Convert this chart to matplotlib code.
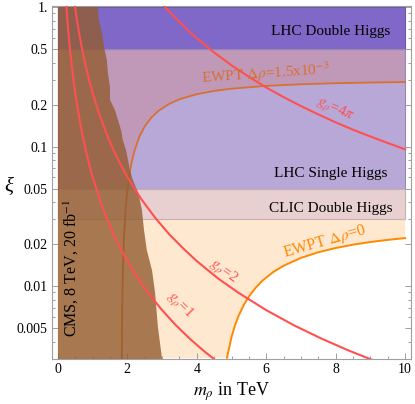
import matplotlib
matplotlib.use("Agg")
import matplotlib.pyplot as plt
from matplotlib.patches import Rectangle
from matplotlib.ticker import FixedLocator, FixedFormatter, NullFormatter

# ---------------- data ----------------
# coupling lines g_rho = 1, 2, 4pi : (m_rho [TeV], xi)
g1_m = [0.24, 0.27, 0.3, 0.35, 0.4, 0.45, 0.5, 0.6, 0.7, 0.8, 0.9, 1.0, 1.2, 1.4, 1.6, 1.8, 2.0, 2.3, 2.6, 3.0, 3.4, 3.8, 4.2, 4.6]
g1_xi = [1.05, 0.830, 0.672, 0.494, 0.378, 0.299, 0.242, 0.168, 0.1235, 0.0945, 0.0747, 0.0605, 0.0420,
         0.0309, 0.0236, 0.0187, 0.0151, 0.0114, 0.00895, 0.00672, 0.00523, 0.00419, 0.00343, 0.00286]
g2_m = [0.48, 0.55, 0.6, 0.7, 0.8, 0.9, 1.0, 1.2, 1.4, 1.6, 1.8, 2.0, 2.4, 2.8, 3.2, 3.6, 4.0, 4.6, 5.2, 6.0, 6.8, 7.6, 8.4, 9.2]
g2_xi = [1.05, 0.800, 0.672, 0.494, 0.378, 0.299, 0.242, 0.168, 0.1235, 0.0945, 0.0747, 0.0605, 0.0420,
         0.0309, 0.0236, 0.0187, 0.0151, 0.0114, 0.00895, 0.00672, 0.00523, 0.00419, 0.00343, 0.00286]
g4pi_m = [3.0, 3.2, 3.5, 3.8, 4.0, 4.5, 5.0, 5.5, 6.0, 6.5, 7.0, 7.5, 8.0, 8.5, 9.0, 9.5, 10.0]
g4pi_xi = [1.06, 0.933, 0.780, 0.662, 0.597, 0.472, 0.382, 0.316, 0.265, 0.226, 0.195, 0.170,
           0.149, 0.132, 0.118, 0.106, 0.0955]

# EWPT  Delta rho = 0
drho0_m = [4.87, 4.9, 5.0, 5.1, 5.2, 5.35, 5.5, 5.7, 5.9, 6.2, 6.5, 7.0, 7.5, 8.0, 8.5, 9.0, 9.5, 10.0]
drho0_xi = [0.00306, 0.00332, 0.00430, 0.00522, 0.00609, 0.00730, 0.00841, 0.00976, 0.01098, 0.01259,
            0.01398, 0.01591, 0.01747, 0.01874, 0.01980, 0.02069, 0.02143, 0.02207]

# EWPT  Delta rho = 1.5e-3
drho15_m = [1.838, 1.85, 1.87, 1.9, 1.95, 2.0, 2.1, 2.2, 2.35, 2.5, 2.7, 2.9, 3.2, 3.5, 4.0, 4.5,
            5.0, 6.0, 7.0, 8.0, 9.0, 10.0]
drho15_xi = [0.0026, 0.00644, 0.0127, 0.0217, 0.0358, 0.0488, 0.0722, 0.0924, 0.1181, 0.1393, 0.1622,
             0.1805, 0.2019, 0.2180, 0.2372, 0.2504, 0.2598, 0.2721, 0.2795, 0.2843, 0.2876, 0.2900]

# CMS 8 TeV, 20 fb^-1 exclusion boundary (from top to bottom)
cms_m = [1.15, 1.18, 1.27, 1.33, 1.41, 1.44, 1.50, 1.50, 1.64, 1.73, 1.82, 1.87, 1.96, 2.02, 2.07,
         2.16, 2.28, 2.36, 2.42, 2.48, 2.56, 2.71, 2.80, 2.88, 3.00]
cms_xi = [1.0, 0.807, 0.651, 0.517, 0.417, 0.336, 0.267, 0.216, 0.183, 0.155, 0.131, 0.111, 0.0944,
          0.080, 0.068, 0.0575, 0.0488, 0.0413, 0.0351, 0.0252, 0.0181, 0.0130, 0.0089, 0.0051, 0.0030]

# sensitivity bands
band_names = ["LHC Double Higgs", "LHC Single Higgs", "CLIC Double Higgs"]
band_low = [0.5, 0.05, 0.03]
band_high = [1.0, 0.5, 0.05]
m_max = 10.0
xi_min, xi_max = 0.003, 1.0

xticks = [0, 2, 4, 6, 8, 10]
xtick_labels = ["0", "2", "4", "6", "8", "10"]
yticks = [0.005, 0.01, 0.02, 0.05, 0.1, 0.2, 0.5, 1.0]
ytick_labels = ["0.005", "0.01", "0.02", "0.05", "0.1", "0.2", "0.5", "1."]

# ---------------- style ----------------
plt.rcParams['font.family'] = ['Liberation Serif', 'DejaVu Serif']
plt.rcParams['mathtext.fontset'] = 'stix'

C_PEACH = '#ffe8d0'
C_CLIC = '#e8d0d0'
C_LAV = '#b8a8d8'
C_MAUVE = '#c098b8'
C_PURPLE = '#8068c8'
C_CMS = '#925c30'
C_RED = '#ff5050'
C_OR0 = '#ff8800'
C_OR15 = '#d87030'

fig = plt.figure(figsize=(4.15, 4.04), dpi=100)
ax = fig.add_axes([52 / 415, 45 / 404, (411 - 52) / 415, (398 - 45) / 404])
ax.set_yscale('log')
ax.set_xlim(-0.17, 10.17)
ax.set_ylim(xi_min, 1.017)

# peach region above Delta rho = 0
ax.fill([0, 0] + drho0_m + [m_max], [xi_max, xi_min] + drho0_xi + [xi_max],
        color=C_PEACH, lw=0, zorder=1)

# bands
colors = [C_PURPLE, C_LAV, C_CLIC]
edges = ['#6a58a8', '#9888b8', '#c8b0b0']
zs = [5, 3, 4]
rects = []
for lo, hi, c, z in zip(band_low, band_high, colors, zs):
    r = Rectangle((0, lo), m_max, hi - lo, facecolor=c, edgecolor='none', zorder=z)
    ax.add_patch(r)
    rects.append(r)

# excluded region above Delta rho = 1.5e-3 inside the single-Higgs band
mauve = ax.fill([0] + drho15_m + [m_max, 0], [xi_min] + drho15_xi + [xi_max, xi_max],
                color=C_MAUVE, lw=0, zorder=3.5)[0]
mauve.set_clip_path(rects[1])

for lo, hi, e in zip(band_low, band_high, edges):
    ax.add_patch(Rectangle((0, lo), m_max, hi - lo, facecolor='none', edgecolor=e,
                           lw=0.8, zorder=5.2))

# Delta rho = 1.5e-3 line (below CMS shading)
ax.plot(drho15_m, drho15_xi, color=C_OR15, lw=1.3, zorder=5.5)

# CMS exclusion
ax.fill([0] + cms_m + [0], [xi_max] + cms_xi + [xi_min], color=C_CMS, alpha=0.8, lw=0, zorder=6)

# lines on top
ax.plot(drho0_m, drho0_xi, color=C_OR0, lw=1.4, zorder=7)
for mm, xx in [(g1_m, g1_xi), (g2_m, g2_xi), (g4pi_m, g4pi_xi)]:
    ax.plot(mm, xx, color=C_RED, lw=1.5, zorder=7.5)

# labels
for name, y in zip(band_names, [0.673, 0.0646, 0.0362]):
    ax.text(7.85, y, name, fontsize=11, ha='center', va='center', zorder=8)

ax.text(5.97, 0.331, r"EWPT $\Delta\rho$=1.5x10$^{-3}$", color=C_OR15, fontsize=11,
        ha='center', va='center', rotation=4, zorder=8)
ax.text(7.69, 0.0207, r"EWPT $\Delta\rho$=0", color=C_OR0, fontsize=11.5,
        ha='center', va='center', rotation=16, zorder=8)
ax.text(7.98, 0.183, r"$g_\rho$=4$\pi$", color=C_RED, fontsize=11, ha='center', va='center',
        rotation=-24, zorder=8)
ax.text(4.76, 0.0126, r"$g_\rho$=2", color=C_RED, fontsize=11, ha='center', va='center',
        rotation=-36, zorder=8)
ax.text(3.49, 0.0072, r"$g_\rho$=1", color=C_RED, fontsize=11, ha='center', va='center',
        rotation=-45, zorder=8)
ax.text(0.40, 0.0135, r"CMS, 8 TeV, 20 fb$^{-1}$", fontsize=11.5, ha='center', va='center',
        rotation=90, zorder=8)

# axes / ticks
ax.xaxis.set_major_locator(FixedLocator(xticks))
ax.xaxis.set_major_formatter(FixedFormatter(xtick_labels))
ax.xaxis.set_minor_locator(FixedLocator([v * 0.5 for v in range(0, 21) if v % 4 != 0]))
ax.yaxis.set_major_locator(FixedLocator(yticks))
ax.yaxis.set_major_formatter(FixedFormatter(ytick_labels))
minor_y = [k * d for d in [0.001, 0.01, 0.1] for k in range(1, 10)]
minor_y = [v for v in minor_y if all(abs(v - t) > 1e-9 for t in yticks)]
ax.yaxis.set_minor_locator(FixedLocator(minor_y))
ax.yaxis.set_minor_formatter(NullFormatter())
ax.tick_params(which='both', direction='in', top=True, right=True, color='#909090',
               labelsize=10, width=0.6, pad=3)
ax.tick_params(which='major', length=4)
ax.tick_params(which='minor', length=2.5)
for s in ax.spines.values():
    s.set_color('#a0a0a0')
    s.set_linewidth(0.8)

ax.set_xlabel(r"$m_\rho$ in TeV", fontsize=13, labelpad=3)
fig.text(9 / 415, 1 - 188 / 404, "ξ", fontsize=15, fontstyle='italic',
         family=['Liberation Serif', 'DejaVu Serif'], ha='center', va='center')

fig.savefig("out.png", dpi=100)
